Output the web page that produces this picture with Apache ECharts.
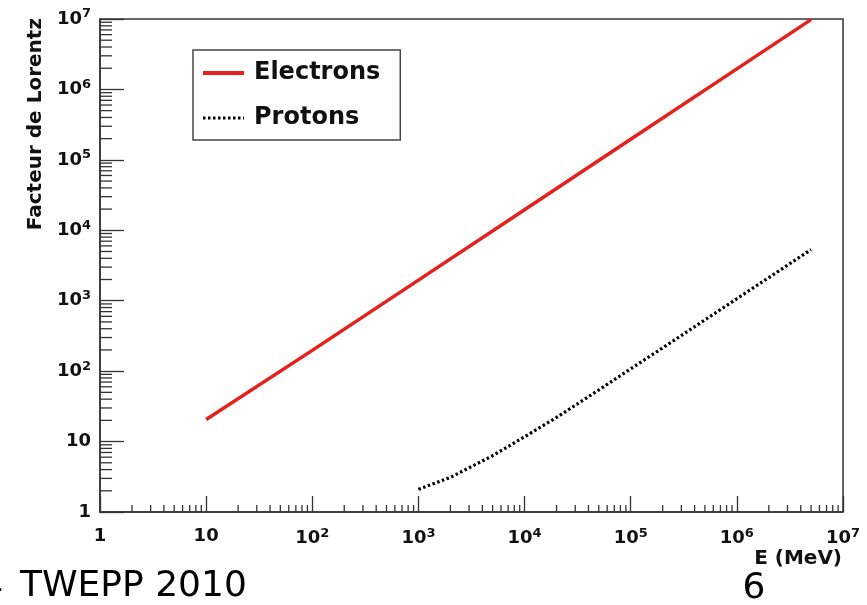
<!DOCTYPE html>
<html><head><meta charset="utf-8">
<script src="https://cdn.jsdelivr.net/npm/echarts@6/dist/echarts.min.js"></script>
<style>html,body{margin:0;padding:0;background:#fff}#c{width:867px;height:605px}</style>
</head><body><div id="c"></div>
<script>
// ---- data ----
const energyElectrons = [10, 100, 1000, 10000, 100000, 1000000, 5000000];
const gammaElectrons  = [20.6, 197, 1960, 19600, 196000, 1960000, 9800000];
const energyProtons = [1000, 2000, 5000, 10000, 20000, 50000, 100000, 200000, 500000, 1000000, 2000000, 5000000];
const gammaProtons  = [2.1, 3.1, 6.3, 11.7, 22, 54, 108, 214, 534, 1067, 2130, 5330];
const seriesNames = ['Electrons', 'Protons'];
// tick labels (index = decade exponent)
const xTickLabels = ['1', '10', '10{s|2}', '10{s|3}', '10{s|4}', '10{s|5}', '10{s|6}', '10{s|7}'];
const yTickLabels = ['1', '10', '10{s|2}', '10{s|3}', '10{s|4}', '10{s|5}', '10{s|6}', '10{s|7}'];
const decadeStarts = [1, 10, 100, 1000, 10000, 100000, 1000000];
const minorMultipliers = [2, 3, 4, 5, 6, 7, 8, 9];
const xTitle = 'E (MeV)';
const yTitle = 'Facteur de Lorentz';
const footerLeft = 'TWEPP 2010';
const footerRight = '6';

const FONT = 'DejaVu Sans';
const AX = '#333';
const minorVals = [];
decadeStarts.forEach(d => minorMultipliers.forEach(m => minorVals.push(d * m)));

const richLabel = {
  b: {fontFamily: FONT, fontWeight: 'bold', fontSize: 18, color: '#111'},
  s: {fontFamily: FONT, fontWeight: 'bold', fontSize: 13, color: '#111', verticalAlign: 'top', padding: [0, 0, 10, 0]}
};
function fmt(labels) {
  return function (v) {
    const k = Math.round(Math.log10(v));
    const t = labels[k] || '';
    return t.replace(/^(\d+)/, '{b|$1}');
  };
}

const chart = echarts.init(document.getElementById('c'));
chart.setOption({
  backgroundColor: '#fff',
  animation: false,
  grid: {left: 100, right: 24, top: 19, bottom: 93, show: true, borderColor: AX, borderWidth: 1.5, outerBoundsMode: 'none'},
  legend: {
    left: 193, top: 50, orient: 'vertical',
    data: [
      {name: seriesNames[0], lineStyle: {width: 4}},
      {name: seriesNames[1], lineStyle: {width: 3}}
    ],
    borderColor: '#444', borderWidth: 1.5, backgroundColor: '#fff',
    padding: [11, 20, 10, 8],
    itemWidth: 41, itemHeight: 24, itemGap: 21,
    itemStyle: {opacity: 0},
    textStyle: {fontFamily: FONT, fontWeight: 'bold', fontSize: 24, color: '#111', padding: [0, 0, 0, 5]}
  },
  xAxis: {
    type: 'log', logBase: 10, min: 1, max: 10000000, interval: 1,
    axisLine: {lineStyle: {color: AX, width: 1.5}},
    axisTick: {inside: true, length: 16, lineStyle: {color: AX, width: 1.3}},
    axisLabel: {margin: 15, formatter: fmt(xTickLabels), rich: richLabel, showMinLabel: true, showMaxLabel: true},
    splitLine: {show: false}, minorTick: {show: false}
  },
  yAxis: {
    type: 'log', logBase: 10, min: 1, max: 10000000, interval: 1,
    axisLine: {lineStyle: {color: AX, width: 1.5}},
    axisTick: {inside: true, length: 24, lineStyle: {color: AX, width: 1.3}},
    axisLabel: {margin: 9, formatter: fmt(yTickLabels), rich: richLabel, showMinLabel: true, showMaxLabel: true},
    splitLine: {show: false}, minorTick: {show: false}
  },
  series: [
    {
      name: seriesNames[0], type: 'line', symbol: 'none', z: 5,
      data: energyElectrons.map((e, i) => [e, gammaElectrons[i]]),
      lineStyle: {color: '#e5211b', width: 3.5}, itemStyle: {color: '#e5211b'}
    },
    {
      name: seriesNames[1], type: 'line', symbol: 'none', z: 5,
      data: energyProtons.map((e, i) => [e, gammaProtons[i]]),
      lineStyle: {color: '#000', width: 3.2, type: [2.5, 2.5]}, itemStyle: {color: '#000'}
    },
    {
      type: 'custom', silent: true, z: 3,
      data: minorVals.map(v => [v, 1]),
      renderItem: function (params, api) {
        const p = api.coord([api.value(0), 1]);
        return {type: 'line', shape: {x1: p[0], y1: p[1], x2: p[0], y2: p[1] - 7}, style: {stroke: AX, lineWidth: 1.3}};
      }
    },
    {
      type: 'custom', silent: true, z: 3,
      data: minorVals.map(v => [1, v]),
      encode: {x: 0, y: 1},
      renderItem: function (params, api) {
        const p = api.coord([1, api.value(1)]);
        return {type: 'line', shape: {x1: p[0], y1: p[1], x2: p[0] + 12, y2: p[1]}, style: {stroke: AX, lineWidth: 1.3}};
      }
    }
  ],
  graphic: [
    {type: 'text', x: 36, y: 18, rotation: Math.PI / 2,
     style: {text: yTitle, font: 'bold 20px "DejaVu Sans"', fill: '#111', align: 'right', verticalAlign: 'middle'}},
    {type: 'text', x: 842, y: 559,
     style: {text: xTitle, font: 'bold 20px "DejaVu Sans"', fill: '#111', align: 'right', verticalAlign: 'middle'}},
    {type: 'text', x: 20, y: 587,
     style: {text: footerLeft, font: '36px "DejaVu Sans"', fill: '#000', align: 'left', verticalAlign: 'middle'}},
    {type: 'text', x: 754, y: 589,
     style: {text: footerRight, font: '36px "DejaVu Sans"', fill: '#000', align: 'center', verticalAlign: 'middle'}},
    {type: 'text', x: 3, y: 590,
     style: {text: '-', font: '36px "DejaVu Sans"', fill: '#000', align: 'right', verticalAlign: 'middle'}}
  ]
});
</script></body></html>
